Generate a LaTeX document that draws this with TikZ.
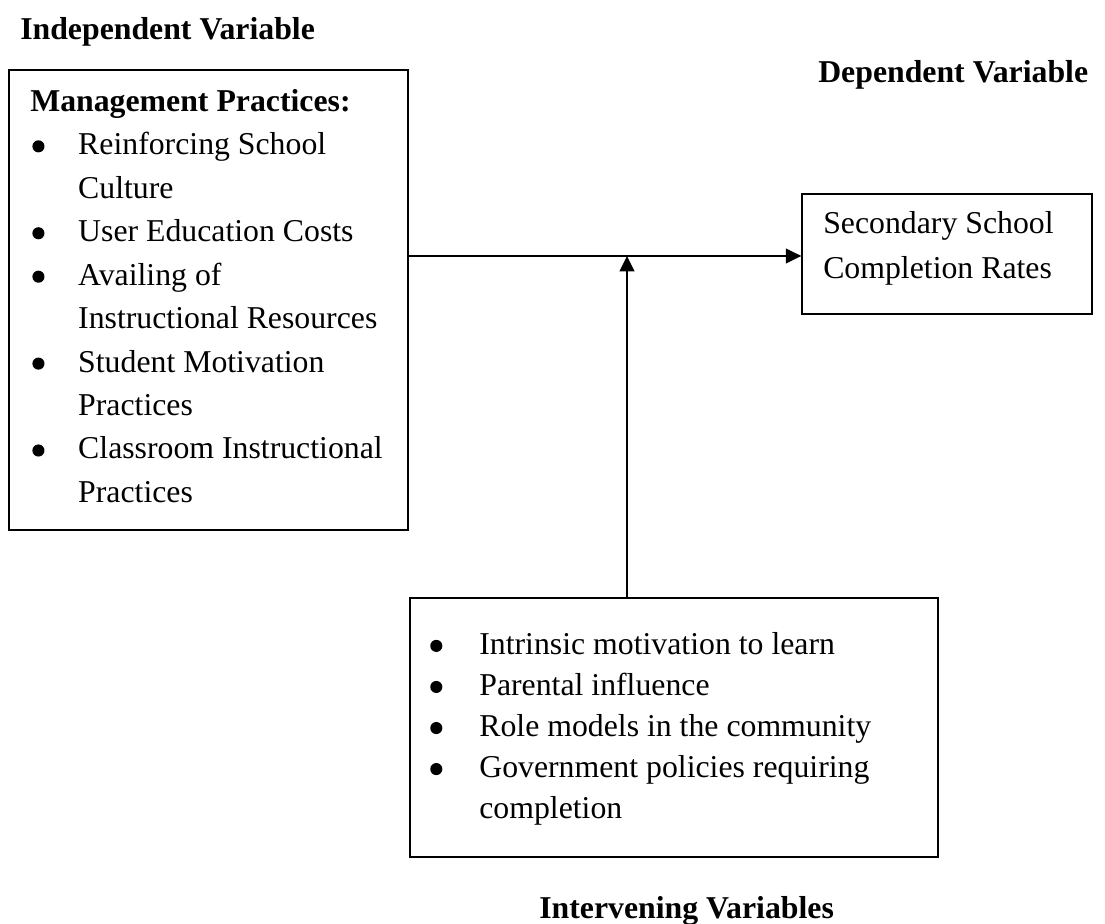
\documentclass[tikz,border=0pt]{standalone}
\usepackage{fontspec}
\setmainfont{Liberation Serif}
\usepackage{tikz}
\usetikzlibrary{
    calc,
    arrows.meta,
    fit
}
\newcommand{\dotmark}{\tikz[x=1pt,y=1pt,baseline=-6pt]\fill (0,0) circle (4.3pt);}
\newcommand{\lbul}{\hspace*{1.5pt}\makebox[32.6pt][l]{\dotmark}}
\newcommand{\lcont}{\hspace*{34.1pt}}
\newcommand{\bbul}{\hspace*{1.4pt}\makebox[34.9pt][l]{\dotmark}}
\newcommand{\bcont}{\hspace*{36.3pt}}
\tikzset{
    frame/.style={draw, line width=0.95pt, inner sep=0pt},
    listtext/.style={align=left, inner sep=0pt, anchor=north west,
        font=\fontsize{22.6}{#1}\selectfont},
    heading/.style={inner sep=0pt, anchor=base west,
        font=\fontsize{22.6}{30}\selectfont\bfseries},
    link/.style={line width=1.4pt, -{Triangle[length=11pt,width=10.5pt]}}
}

\begin{document}
\begin{tikzpicture}[x=0.025cm,y=-0.025cm]
    \useasboundingbox (0,0) rectangle (1105,924);

    % headings
    \draw (20,40) node[heading](indep){Independent Variable};
    \draw (818,83) node[heading](dep){Dependent Variable};
    \draw (539,918) node[heading](interv){Intervening Variables};

    % boxes
    \node[frame, fit={(9,70) (408,530)}] (mgmt) {};
    \node[frame, fit={(802,194) (1092,314)}] (rates) {};
    \node[frame, fit={(410,598) (938,857)}] (inter) {};

    \draw (30,89) node[listtext=30.9pt](mgmt-list){\textbf{Management Practices:}\\
        \lbul Reinforcing School\\
        \lcont Culture\\
        \lbul User Education Costs\\
        \lbul Availing of\\
        \lcont Instructional Resources\\
        \lbul Student Motivation\\
        \lcont Practices\\
        \lbul Classroom Instructional\\
        \lcont Practices};

    \draw (823,211) node[listtext=32pt](rates-text){Secondary School\\
        Completion Rates};

    \draw (428,632) node[listtext=29.2pt](inter-list){\bbul Intrinsic motivation to learn\\
        \bbul Parental influence\\
        \bbul Role models in the community\\
        \bbul Government policies requiring\\
        \bcont completion};

    % connectors
    \coordinate (meet) at (627,256);
    \draw[link] (mgmt.east |- meet) -- (rates.west |- meet);
    \draw[link] (inter.north -| meet) -- (meet);
\end{tikzpicture}
\end{document}
